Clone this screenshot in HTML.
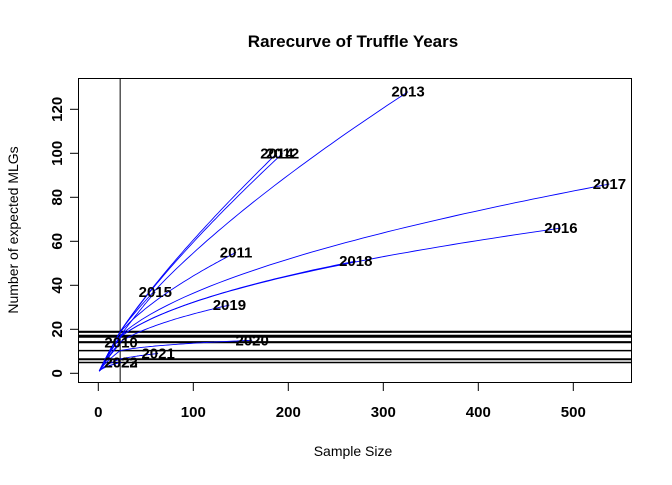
<!DOCTYPE html>
<html><head><meta charset="utf-8"><style>
body{margin:0;background:#fff;}
svg text{font-family:"Liberation Sans",Arial,sans-serif;}
</style></head><body>
<svg id="chart" width="672" height="480" xmlns="http://www.w3.org/2000/svg">
<text x="353" y="47" text-anchor="middle" font-size="17" font-weight="bold">Rarecurve of Truffle Years</text>
<text x="353" y="456" text-anchor="middle" font-size="14">Sample Size</text>
<text transform="translate(18,230) rotate(-90)" text-anchor="middle" font-size="14">Number of expected MLGs</text>
<rect x="78.5" y="78.5" width="553" height="304" fill="none" stroke="#000"/>
<g id="hlines"></g><g id="curves"></g><g id="labels"></g><g id="axes"></g>
</svg>
<script>
const years = ["2010","2011","2012","2013","2014","2015","2016","2017","2018","2019","2020","2021","2022","2023"];
const sampleSizes = [24,145,194,326,188,60,487,538,271,138,162,63,24,24];
const richness = [14,55,100,128,100,37,66,86,51,31,15,9,5,5];
const rarefiedAtSample = [14.0,18.7,18.9,19.0,18.9,16.9,16.6,17.2,16.5,14.3,10.3,6.5,6.3,4.9];
const sampleLine = 23;
const xTicks = [0,100,200,300,400,500];
const yTicks = [0,20,40,60,80,100,120];
const NS="http://www.w3.org/2000/svg";
const X=v=>98.3+v*0.95, Y=v=>373.3-v*2.2;
function mk(t,a,p){const e=document.createElementNS(NS,t);for(const k in a)e.setAttribute(k,a[k]);p.appendChild(e);return e;}
const hl=document.getElementById('hlines');
rarefiedAtSample.forEach(v=>{const e=mk('line',{x1:78.5,x2:631.5,y1:Y(v),y2:Y(v),stroke:'#000','stroke-width':1.5},hl);

});
const vl=mk('line',{x1:X(sampleLine),x2:X(sampleLine),y1:78.5,y2:382.5,stroke:'#000'},hl);


const cg=document.getElementById('curves'),lg=document.getElementById('labels');
function curveVal(n,N,S,r){
  if(N<=sampleLine+8){const b=Math.log(S)/Math.log(N);return Math.pow(n,b);}
  if(n<=sampleLine){const b=Math.log(r)/Math.log(sampleLine);return Math.pow(n,b);}
  const b=Math.log(S/r)/Math.log(N/sampleLine);return r*Math.pow(n/sampleLine,b);
}
years.forEach((yr,i)=>{const N=sampleSizes[i],S=richness[i],r=rarefiedAtSample[i];let d='';
for(let k=0;k<=60;k++){const n=1+(N-1)*k/60;const s=curveVal(n,N,S,r);d+=(k?'L':'M')+X(n).toFixed(1)+' '+Y(s).toFixed(1);}
const p=mk('path',{d:d,fill:'none',stroke:'#0000ff','stroke-width':0.9},cg);


const t=mk('text',{x:X(N),y:Y(S)+5,'text-anchor':'middle','font-size':15,'font-weight':'bold'},lg);t.textContent=yr;

});
const ax=document.getElementById('axes');
xTicks.forEach(v=>{const l=mk('line',{x1:X(v),x2:X(v),y1:382.5,y2:391,stroke:'#000'},ax);


const t=mk('text',{x:X(v),y:417,'text-anchor':'middle','font-size':15,'font-weight':'bold'},ax);t.textContent=v;

});
yTicks.forEach(v=>{const l=mk('line',{x1:70,x2:78.5,y1:Y(v),y2:Y(v),stroke:'#000'},ax);


const t=mk('text',{transform:`translate(62,${Y(v)}) rotate(-90)`,'text-anchor':'middle','font-size':15,'font-weight':'bold'},ax);t.textContent=v;

});
</script>
</body></html>
